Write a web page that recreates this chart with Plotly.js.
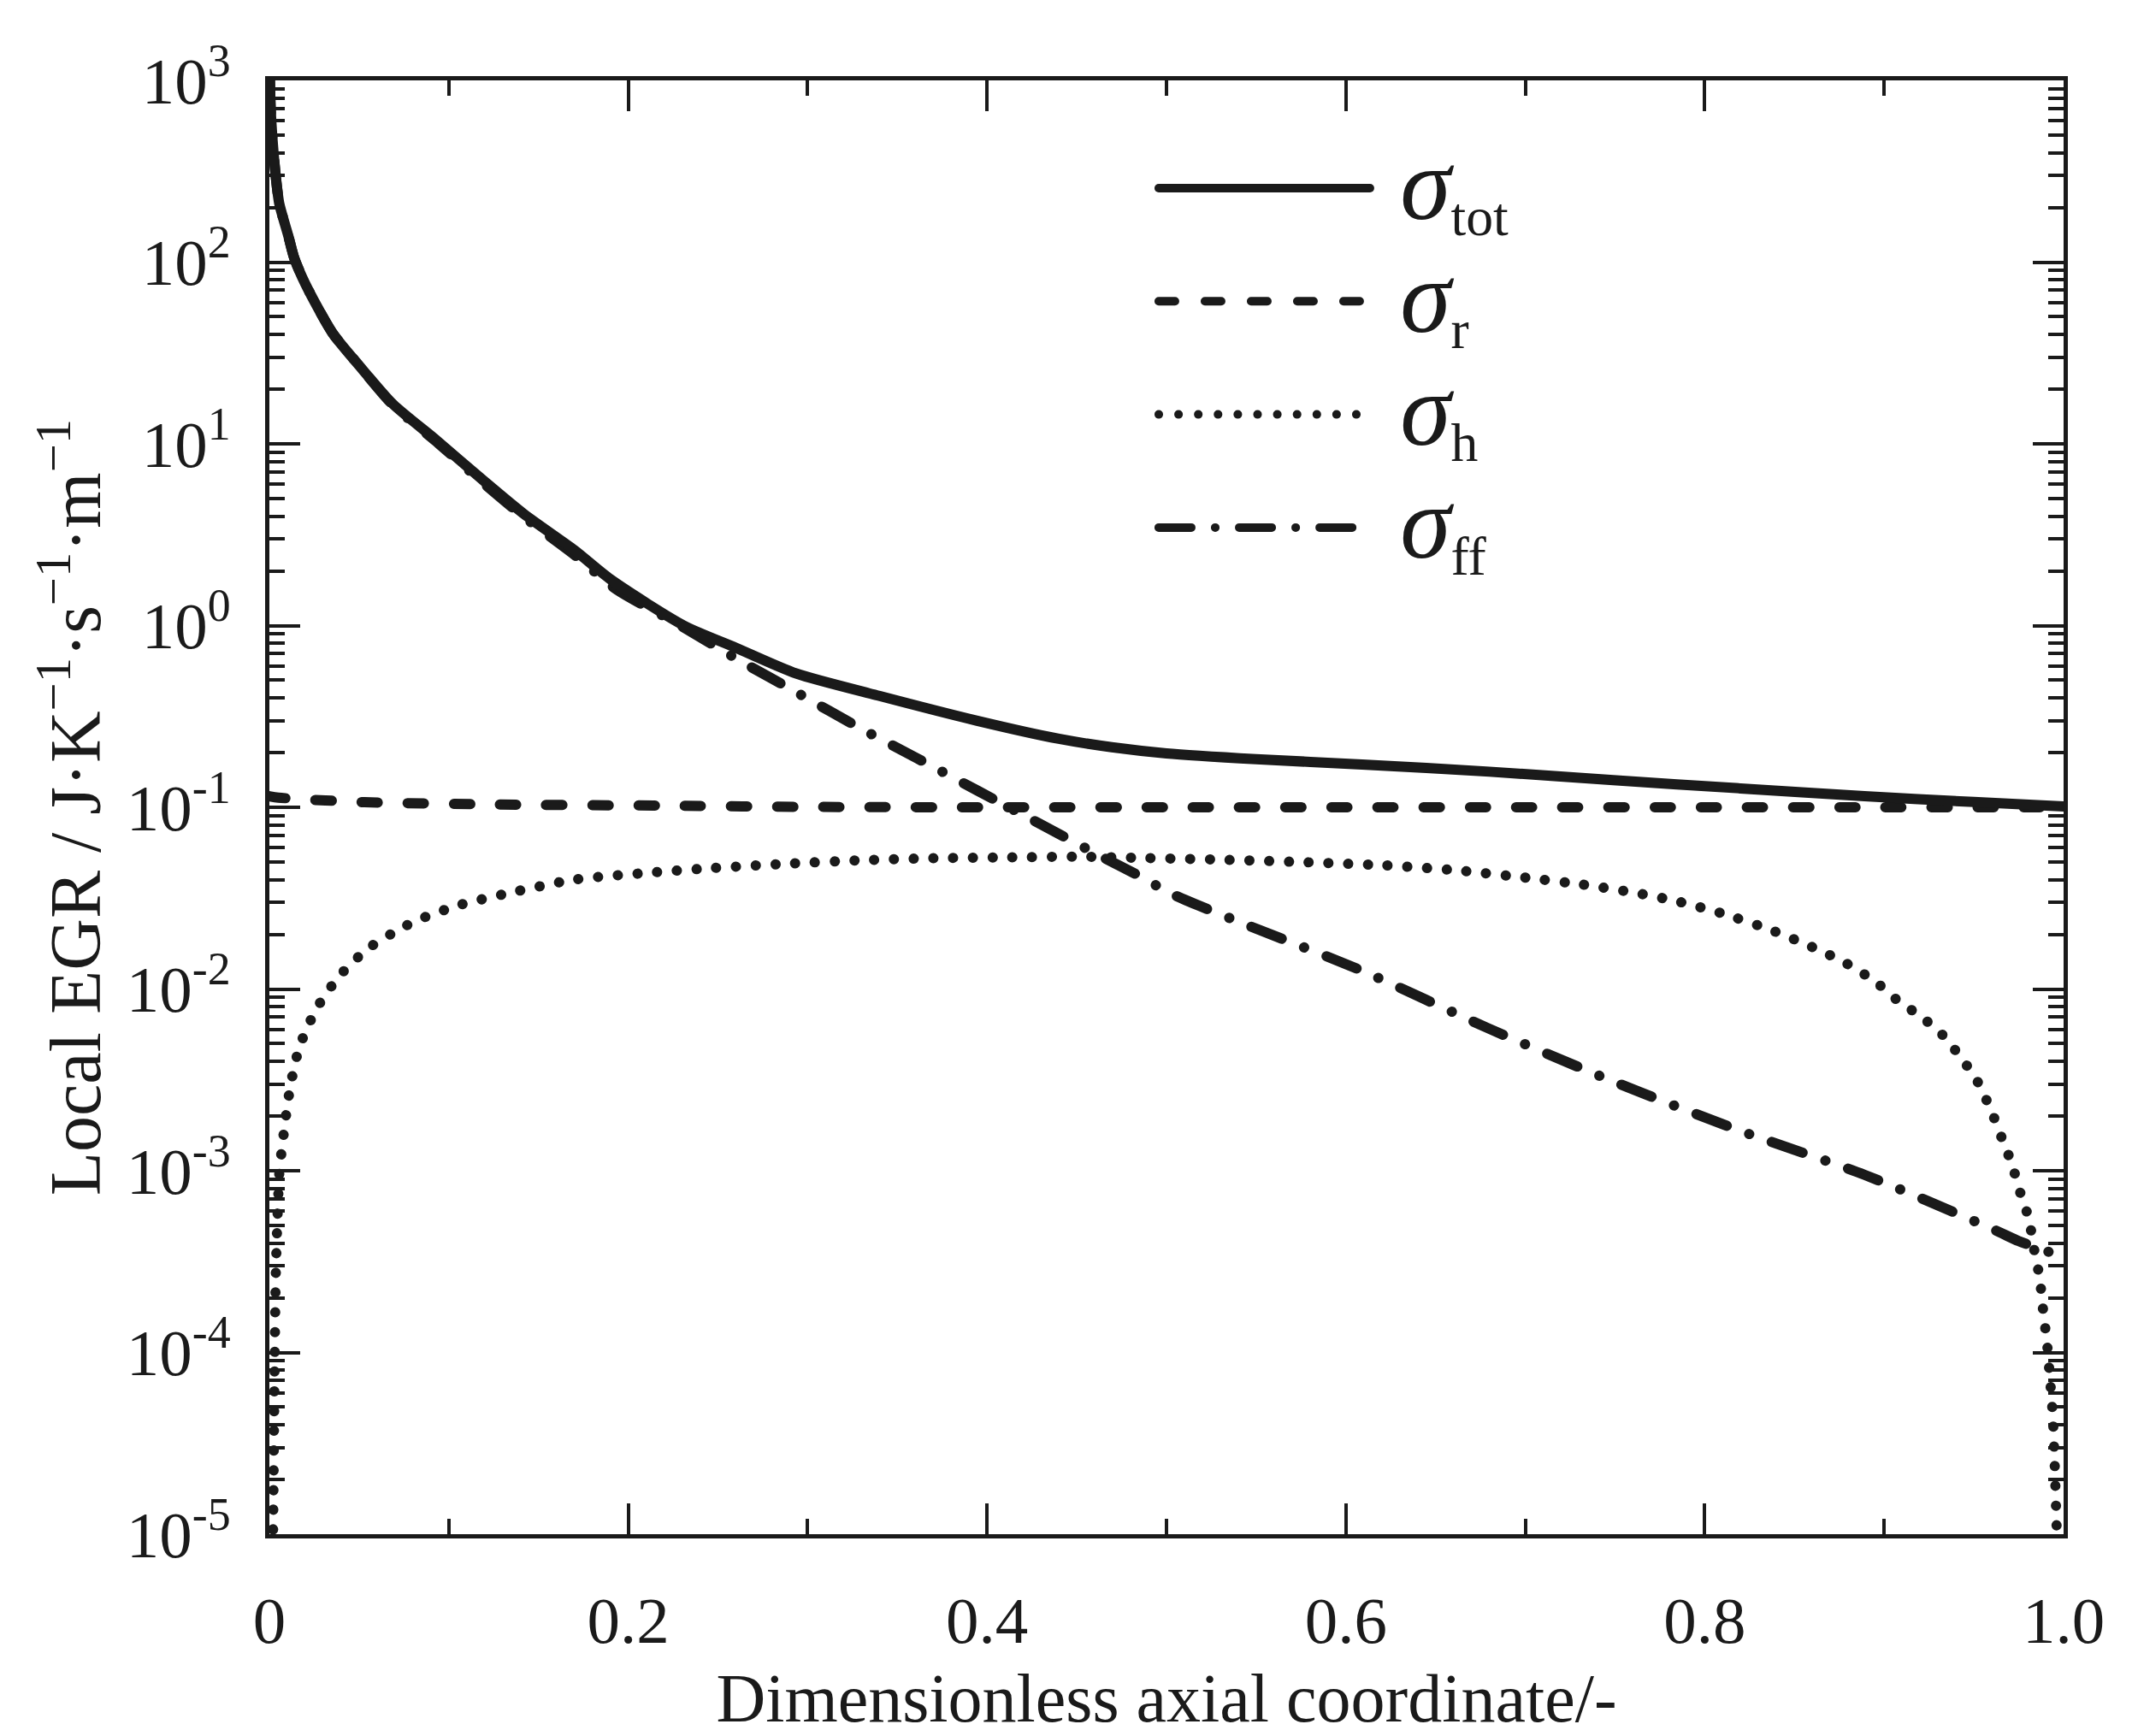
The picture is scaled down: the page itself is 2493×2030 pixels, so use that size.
<!DOCTYPE html>
<html>
<head>
<meta charset="utf-8">
<script src="https://cdn.plot.ly/plotly-3.0.1.min.js"></script>
<style>
  html, body { margin: 0; padding: 0; background: #fff; }
  #chart { width: 2493px; height: 2030px; }
  path.js-line { stroke-linecap: round; }
</style>
</head>
<body>
<div id="chart"></div>
<script>
"use strict"

// values (log y axis)
const xTot = [0.0003, 0.0007, 0.0019, 0.0035, 0.0055, 0.0105, 0.0139, 0.02, 0.035, 0.05, 0.069, 0.093, 0.12, 0.142, 0.17, 0.19, 0.231, 0.26, 0.2936, 0.34, 0.394, 0.44, 0.4695, 0.5, 0.55, 0.609, 0.68, 0.749, 0.82, 0.889, 0.95, 1.0]
const sigmaTot = [1000, 700, 450, 300, 210, 140, 105, 76, 41, 27, 16.5, 10.5, 6.2, 4.1, 2.6, 1.8, 1.0, 0.755, 0.545, 0.41, 0.30, 0.238, 0.214, 0.198, 0.184, 0.172, 0.157, 0.141, 0.127, 0.115, 0.107, 0.101]

const xR = [0, 0.005, 0.053, 0.126, 0.227, 0.3, 0.4, 0.5, 0.6, 0.7, 0.8, 0.9, 1.0]
const sigmaR = [0.115, 0.113, 0.1067, 0.1037, 0.102, 0.1005, 0.1, 0.1, 0.1, 0.1, 0.1, 0.1, 0.1]

const xH = [0.0018, 0.0022, 0.0026, 0.003, 0.0035, 0.0045, 0.0057, 0.0072, 0.0086, 0.0119, 0.0167, 0.0214, 0.0262, 0.039, 0.055, 0.075, 0.085, 0.106, 0.135, 0.17, 0.21, 0.247, 0.29, 0.327, 0.37, 0.411, 0.45, 0.485, 0.53, 0.574, 0.62, 0.6616, 0.7, 0.7316, 0.76, 0.784, 0.81, 0.8365, 0.86, 0.878, 0.895, 0.9066, 0.92, 0.931, 0.942, 0.952, 0.96, 0.9657, 0.971, 0.976, 0.9805, 0.984, 0.9866, 0.989, 0.9905, 0.9925, 0.994, 0.995, 0.996, 0.997]
const sigmaH = [5e-6, 1.5e-5, 4e-5, 1e-4, 2.5e-4, 5.5e-4, 1.03e-3, 1.37e-3, 1.8e-3, 3.0e-3, 4.8e-3, 6.2e-3, 7.8e-3, 0.0118, 0.0167, 0.022, 0.0245, 0.029, 0.034, 0.040, 0.0435, 0.0463, 0.049, 0.051, 0.0525, 0.053, 0.0535, 0.0527, 0.0515, 0.050, 0.048, 0.045, 0.041, 0.0376, 0.034, 0.0305, 0.026, 0.0212, 0.017, 0.014, 0.011, 0.0088, 0.0071, 0.0058, 0.0043, 0.0031, 0.0021, 0.0015, 0.0011, 0.00075, 0.00055, 0.00035, 0.00026, 0.000156, 0.00012, 7e-5, 4.5e-5, 2.5e-5, 1.2e-5, 5e-6]

const xFF = [0.0003, 0.0007, 0.0019, 0.0035, 0.0055, 0.0105, 0.0139, 0.02, 0.035, 0.05, 0.069, 0.093, 0.12, 0.142, 0.17, 0.1935, 0.227, 0.26, 0.2936, 0.33, 0.361, 0.395, 0.4276, 0.46, 0.4833, 0.504, 0.5396, 0.609, 0.679, 0.749, 0.819, 0.889, 0.962, 0.975, 0.991, 1.0]
const sigmaFF = [1000, 700, 450, 300, 210, 140, 105, 76, 41, 27, 16.3, 10.3, 6.0, 3.95, 2.45, 1.58, 1.03, 0.66, 0.43, 0.27, 0.186, 0.123, 0.083, 0.056, 0.0427, 0.033, 0.0236, 0.0126, 0.0061, 0.0031, 0.00167, 0.00095, 0.00047, 0.00041, 0.00036, 0.00033]

const subs = ["tot", "r", "h", "ff"]
const names = subs.map(s => "\u2004<span style=\"font-size:120px;font-style:italic\"><i>σ</i></span><sub>" + s + "</sub>")

const yTickVals = [1e-5, 1e-4, 1e-3, 1e-2, 1e-1, 1, 10, 100, 1000]
const yTickText = ["-5", "-4", "-3", "-2", "-1", "0", "1", "2", "3"].map(p => "10<sup>" + p + "</sup>")
const xTickVals = [0, 0.2, 0.4, 0.6, 0.8, 1.0]
const xTickText = ["0", "0.2", "0.4", "0.6", "0.8", "1.0"]
const xMinorVals = [0.1, 0.3, 0.5, 0.7, 0.9]

const ink = "#1a1a1a"
const serif = "Liberation Serif"

const trace = (x, y, i, dash, rank) => ({
  x: x,
  y: y,
  name: names[i],
  legendgroup: "g" + i,
  legendrank: rank,
  mode: "lines",
  type: "scatter",
  line: {color: ink, width: 12, dash: dash, shape: "spline", smoothing: 0.7},
})

const data = [
  trace(xR, sigmaR, 1, "19px,35px", 2),
  trace(xH, sigmaH, 2, "0.1px,23px", 3),
  trace(xFF, sigmaFF, 3, "38px,28px,0.1px,28px", 4),
  trace(xTot, sigmaTot, 0, "solid", 1),
]

const axisBase = {
  showline: true,
  linecolor: ink,
  linewidth: 5,
  mirror: "allticks",
  ticks: "inside",
  tickcolor: ink,
  tickwidth: 4,
  ticklen: 36,
  showgrid: false,
  zeroline: false,
  tickfont: {family: serif, size: 77, color: ink},
}

const layout = {
  width: 2493,
  height: 2030,
  margin: {l: 315, r: 80, t: 94, b: 236, pad: 0},
  paper_bgcolor: "#fff",
  plot_bgcolor: "#fff",
  font: {family: serif, color: ink},
  showlegend: true,
  legend: {
    x: 0.4933,
    y: 0.9645,
    xanchor: "left",
    yanchor: "top",
    bgcolor: "rgba(0,0,0,0)",
    font: {family: serif, size: 91, color: ink},
    itemwidth: 247,
    traceorder: "grouped",
    tracegroupgap: 11,
  },
  xaxis: Object.assign({}, axisBase, {
    range: [0, 1],
    tickvals: xTickVals,
    ticktext: xTickText,
    minor: {ticks: "inside", tickvals: xMinorVals, ticklen: 18, tickwidth: 4, tickcolor: ink},
    ticklabelstandoff: 30,
    title: {text: "Dimensionless axial coordinate/-", font: {family: serif, size: 80, color: ink}, standoff: 25},
  }),
  yaxis: Object.assign({}, axisBase, {
    type: "log",
    range: [-5, 3],
    tickvals: yTickVals,
    ticktext: yTickText,
    minor: {ticks: "inside", dtick: "D1", ticklen: 18, tickwidth: 4, tickcolor: ink},
    ticklabelstandoff: 25,
    title: {text: "Local EGR / J·K<sup>−1</sup>·s<sup>−1</sup>·m<sup>−1</sup>", font: {family: serif, size: 84, color: ink}, standoff: 4},
  }),
}

Plotly.newPlot("chart", data, layout, {displayModeBar: false, staticPlot: true})
</script>
</body>
</html>
